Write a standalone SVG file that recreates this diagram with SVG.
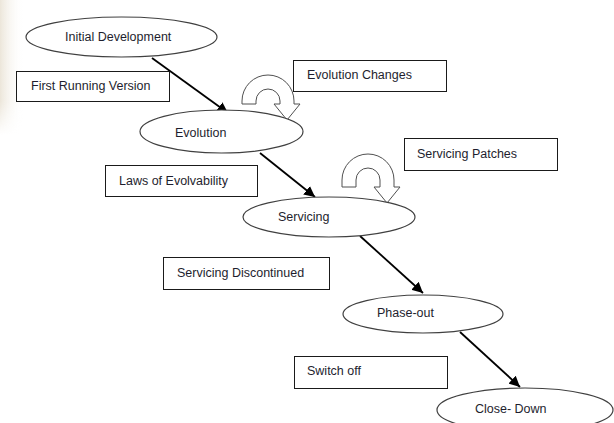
<svg xmlns="http://www.w3.org/2000/svg" width="614" height="423" viewBox="0 0 614 423">
  <defs>
    <style>
      .node ellipse { fill: #ffffff; stroke: #404040; stroke-width: 1.2; }
      .node rect { fill: #ffffff; stroke: #1a1a1a; stroke-width: 1; }
      .label { font-family: "Liberation Sans", Arial, sans-serif; font-size: 12.5px; fill: #1e1e2e; }
      .conn { stroke: #000000; stroke-width: 1.8; fill: none; marker-end: url(#head); }
      .uturn { fill: #ffffff; stroke: #505050; stroke-width: 1; }
    </style>
    <marker id="head" viewBox="0 0 10 10" refX="10" refY="5" markerWidth="6" markerHeight="6" orient="auto" markerUnits="strokeWidth">
      <path d="M0,0 L10,5 L0,10 Z" fill="#000000"/>
    </marker>
    <linearGradient id="edge" x1="0" y1="0" x2="1" y2="0">
      <stop offset="0" stop-color="#ece6da"/>
      <stop offset="1" stop-color="#ffffff" stop-opacity="0"/>
    </linearGradient>
    <linearGradient id="edgefade" x1="0" y1="0" x2="0" y2="1">
      <stop offset="0" stop-color="#ffffff" stop-opacity="1"/>
      <stop offset="0.75" stop-color="#ffffff" stop-opacity="1"/>
      <stop offset="1" stop-color="#ffffff" stop-opacity="0"/>
    </linearGradient>
    <mask id="edgemask">
      <rect x="0" y="0" width="30" height="135" fill="url(#edgefade)"/>
    </mask>
  </defs>

  <rect x="0" y="0" width="614" height="423" fill="#ffffff"/>
  <rect x="0" y="0" width="24" height="135" fill="url(#edge)" mask="url(#edgemask)"/>

  <g id="connectors">
    <line class="conn" x1="152" y1="58" x2="228" y2="113"/>
    <line class="conn" x1="260" y1="153" x2="315" y2="197"/>
    <line class="conn" x1="360" y1="236" x2="423" y2="293"/>
    <line class="conn" x1="460" y1="332" x2="520" y2="387"/>
  </g>

  <g id="loop-evolution">
    <path class="uturn" d="M242,104 L242,101 A26,26 0 0 1 294,101 L294,104 L300,104 L287,120 L274,104 L280,104 L280,101 A12,12 0 0 0 256,101 L256,104 Z"/>
  </g>
  <g id="loop-servicing">
    <path class="uturn" d="M342,187 L342,180 A26,26 0 0 1 394,180 L394,187 L400,187 L387,203 L374,187 L380,187 L380,180 A12,12 0 0 0 356,180 L356,187 Z"/>
  </g>

  <g id="initial-development" class="node">
    <ellipse cx="121.5" cy="37" rx="95.5" ry="20"/>
    <text class="label" x="65" y="41">Initial Development</text>
  </g>
  <g id="first-running-version" class="node">
    <rect x="16.5" y="71.5" width="153" height="30"/>
    <text class="label" x="31" y="90">First Running Version</text>
  </g>
  <g id="evolution" class="node">
    <ellipse cx="221.5" cy="131.5" rx="81.5" ry="21.5"/>
    <text class="label" x="175" y="137">Evolution</text>
  </g>
  <g id="evolution-changes" class="node">
    <rect x="293.5" y="60.5" width="153" height="31"/>
    <text class="label" x="307" y="79">Evolution Changes</text>
  </g>
  <g id="laws-of-evolvability" class="node">
    <rect x="105.5" y="165.5" width="152" height="31"/>
    <text class="label" x="119" y="185">Laws of Evolvability</text>
  </g>
  <g id="servicing" class="node">
    <ellipse cx="329" cy="217" rx="86" ry="20"/>
    <text class="label" x="278" y="221">Servicing</text>
  </g>
  <g id="servicing-patches" class="node">
    <rect x="404.5" y="138.5" width="153" height="32"/>
    <text class="label" x="417" y="158">Servicing Patches</text>
  </g>
  <g id="servicing-discontinued" class="node">
    <rect x="163.5" y="257.5" width="166" height="32"/>
    <text class="label" x="177" y="277">Servicing Discontinued</text>
  </g>
  <g id="phase-out" class="node">
    <ellipse cx="423" cy="314" rx="80" ry="19"/>
    <text class="label" x="377" y="317">Phase-out</text>
  </g>
  <g id="switch-off" class="node">
    <rect x="294.5" y="356.5" width="153" height="32"/>
    <text class="label" x="307" y="375">Switch off</text>
  </g>
  <g id="close-down" class="node">
    <ellipse cx="525" cy="410" rx="88" ry="22"/>
    <text class="label" x="475" y="413">Close- Down</text>
  </g>
</svg>
